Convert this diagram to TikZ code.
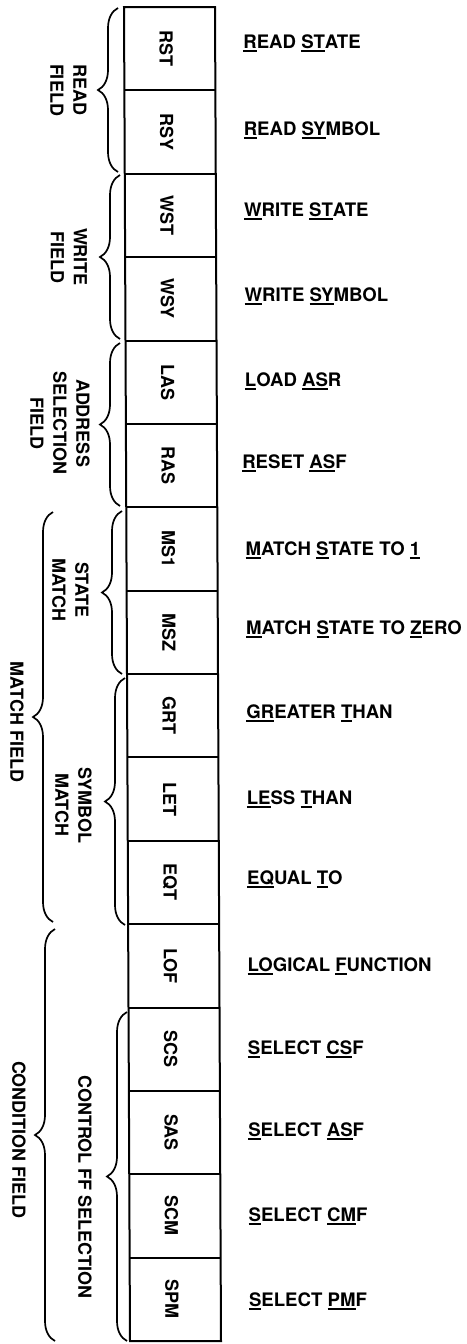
\documentclass[tikz,border=0pt]{standalone}
\usepackage{fontspec}
\setmainfont{TeX Gyre Heros}
\usetikzlibrary{decorations.pathreplacing}
\newcommand\ulx[1]{\setbox0=\hbox{#1}\rlap{\rule[-3.6pt]{\wd0}{1.8pt}}\box0}
\begin{document}
\begin{tikzpicture}[x=1pt,y=-1pt,
  cell/.style={minimum width=91pt, minimum height=83.375pt, inner sep=0pt, outer sep=0pt},
  frame/.style={line width=2pt, line join=miter},
  celltext/.style={rotate=-90, inner sep=0pt, font=\fontsize{18}{20}\selectfont\bfseries},
  desc/.style={anchor=base west, inner sep=0pt, font=\fontsize{18.6}{22}\selectfont\bfseries},
  side/.style={rotate=-90, align=center, inner sep=0pt, font=\fontsize{18}{23}\selectfont\bfseries},
  br/.style={decorate, decoration={brace, amplitude=20pt}, line width=1.7pt}]
\useasboundingbox (0,0) rectangle (466,1344);
% frame of the register (slightly skewed like the scan)
\coordinate (f-tl) at (124,7);   \coordinate (f-tr) at (215,7);
\coordinate (f-bl) at (130,1341); \coordinate (f-br) at (221,1341);
\draw[frame] (f-tl) -- (f-tr) -- (f-br) -- (f-bl) -- cycle;
\foreach \i in {1,...,15} {
  \pgfmathsetmacro\yb{7+83.375*\i}
  \pgfmathsetmacro\xl{124+0.0045*(\yb-7)}
  \draw[frame] (\xl,\yb) -- (\xl+91,\yb);
}
% cells
\foreach \name/\lab [count=\i from 0] in {rst/RST, rsy/RSY, wst/WST, wsy/WSY, las/LAS, ras/RAS, msa/MS1, msz/MSZ, grt/GRT, let/LET, eqt/EQT, lof/LOF, scs/SCS, sas/SAS, scm/SCM, spm/SPM} {
  \pgfmathsetmacro\yc{7+83.375*(\i+0.5)}
  \pgfmathsetmacro\xc{169.5+0.0045*(\yc-7)}
  \node[cell] (\name) at (\xc,\yc) {};
  \node[celltext] (\name-t) at (\xc-3.5,\yc) {\lab};
}
% descriptions
\node[desc] (d1) at ({243+0.0045*41}, 48) {\ulx{R}EAD \ulx{ST}ATE};
\node[desc] (d2) at ({243+0.0045*128}, 135) {\ulx{R}EAD \ulx{SY}MBOL};
\node[desc] (d3) at ({243+0.0045*210}, 216.5) {\ulx{W}RITE \ulx{ST}ATE};
\node[desc] (d4) at ({243+0.0045*295}, 301.5) {\ulx{W}RITE \ulx{SY}MBOL};
\node[desc] (d5) at ({243+0.0045*380}, 386.5) {\ulx{L}OAD \ulx{AS}R};
\node[desc] (d6) at ({240+0.0045*461}, 468) {\ulx{R}ESET \ulx{AS}F};
\node[desc] (d7) at ({243+0.0045*548}, 555) {\ulx{M}ATCH \ulx{S}TATE TO \ulx{1}};
\node[desc] (d8) at ({243+0.0045*627}, 634) {\ulx{M}ATCH \ulx{S}TATE TO \ulx{Z}ERO};
\node[desc] (d9) at ({243+0.0045*712}, 718.5) {\ulx{GR}EATER \ulx{T}HAN};
\node[desc] (d10) at ({243+0.0045*798}, 804.5) {\ulx{LE}SS \ulx{T}HAN};
\node[desc] (d11) at ({243+0.0045*878}, 884.5) {\ulx{EQ}UAL \ulx{T}O};
\node[desc] (d12) at ({243+0.0045*965}, 971.5) {\ulx{LO}GICAL \ulx{F}UNCTION};
\node[desc] (d13) at ({243+0.0045*1048}, 1054.5) {\ulx{S}ELECT \ulx{CS}F};
\node[desc] (d14) at ({243+0.0045*1130}, 1136.5) {\ulx{S}ELECT \ulx{AS}F};
\node[desc] (d15) at ({243+0.0045*1215}, 1221.5) {\ulx{S}ELECT \ulx{CM}F};
\node[desc] (d16) at ({243+0.0045*1300}, 1306.5) {\ulx{S}ELECT \ulx{PM}F};
% braces
\coordinate (rf-a) at (118,8);    \coordinate (rf-b) at (118,172);
\coordinate (wf-a) at (120,175);  \coordinate (wf-b) at (120,339);
\coordinate (af-a) at (120,343);  \coordinate (af-b) at (120,506);
\coordinate (sm-a) at (122,511);  \coordinate (sm-b) at (122,674);
\coordinate (ym-a) at (125,678);  \coordinate (ym-b) at (125,925);
\coordinate (cf-a) at (127,1012); \coordinate (cf-b) at (127,1341);
\coordinate (mf-a) at (53,512);   \coordinate (mf-b) at (53,922);
\coordinate (nf-a) at (55,929);   \coordinate (nf-b) at (55,1341);
\foreach \b in {rf,wf,af,sm,ym,cf,mf,nf} {\draw[br] (\b-b) -- (\b-a);}
% side labels
\node[side] (l-read) at (68.5,90) {READ\\FIELD};
\node[side] (l-write) at (69,257) {WRITE\\FIELD};
\node[side] (l-addr) at (60,423) {ADDRESS\\SELECTION\\FIELD};
\node[side] (l-state) at (70.5,590) {STATE\\MATCH};
\node[side] (l-sym) at (73.5,805) {SYMBOL\\MATCH};
\node[side] (l-match) at (17,722) {MATCH FIELD};
\node[side] (l-ctrl) at (85,1187) {CONTROL FF SELECTION};
\node[side] (l-cond) at (19,1140) {CONDITION FIELD};
\end{tikzpicture}
\end{document}
